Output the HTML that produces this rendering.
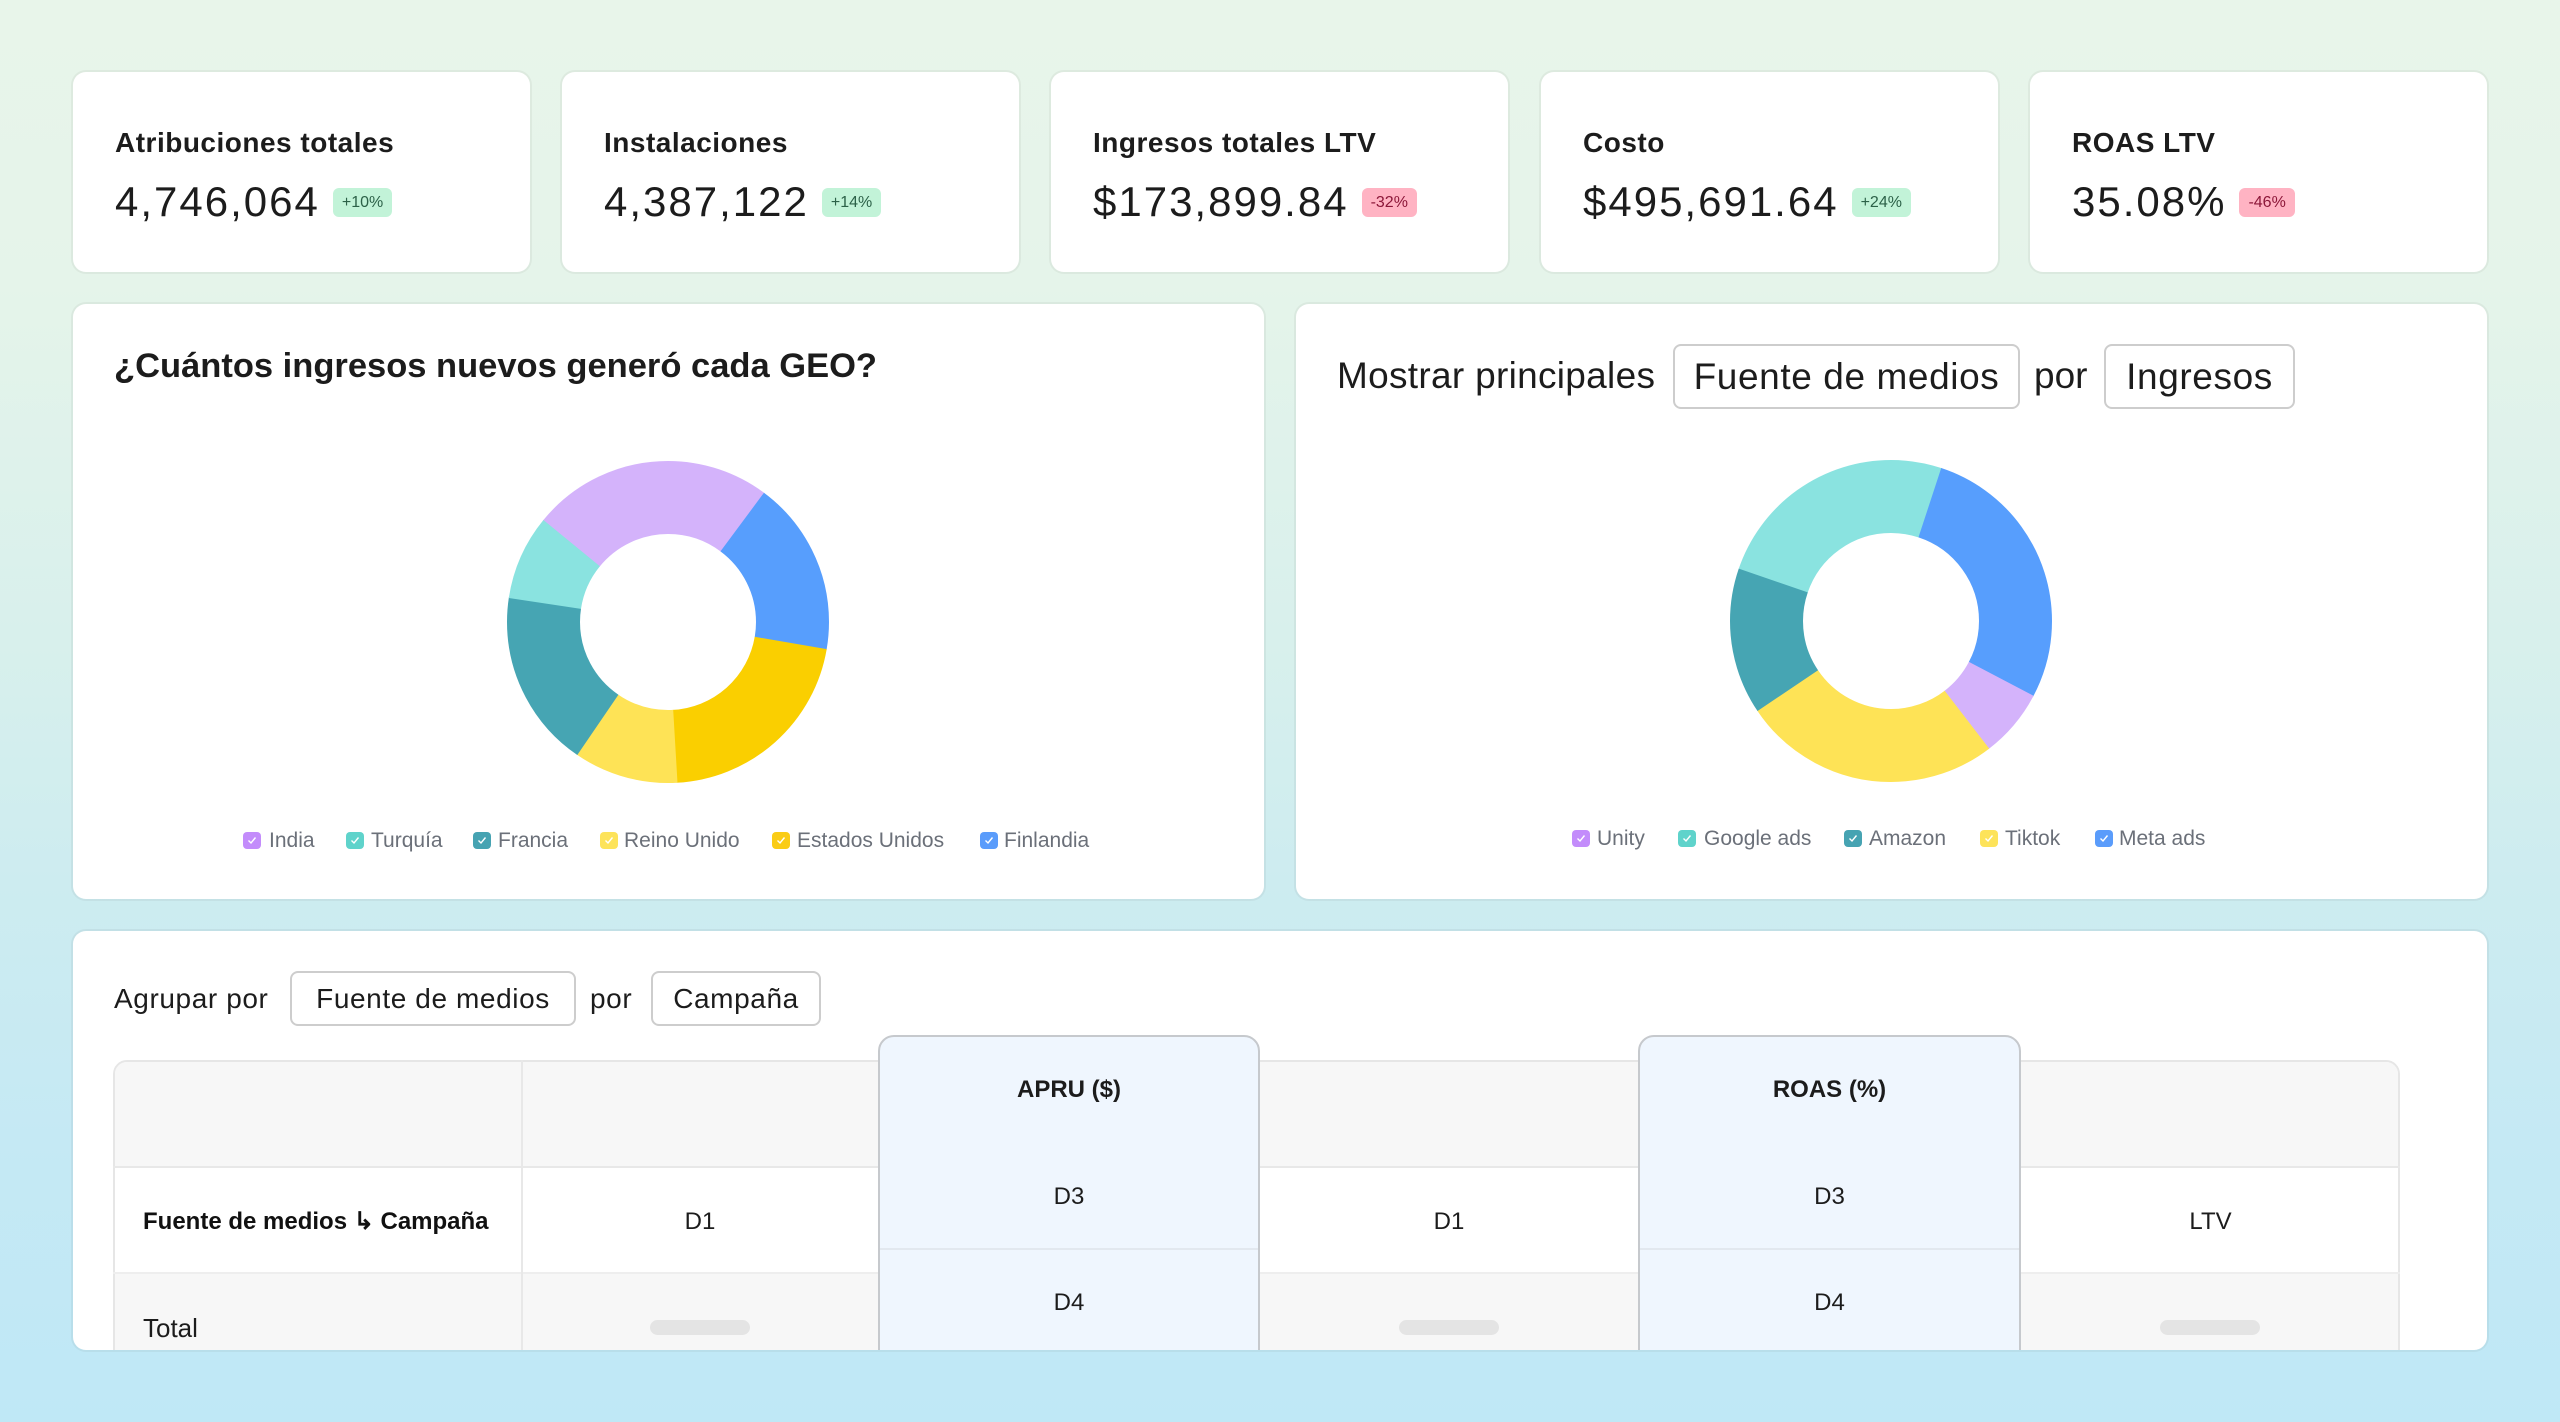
<!DOCTYPE html>
<html>
<head>
<meta charset="utf-8">
<style>
  html,body{margin:0;padding:0;}
  body{width:2560px;height:1422px;overflow:hidden;position:relative;
    font-family:"Liberation Sans",Arial,sans-serif;color:#1b1b1b;
    background:linear-gradient(180deg,#e8f5ea 0%,#e5f4ea 20%,#d8f0ec 45%,#cdecf0 62%,#c5e9f4 80%,#bfe8f6 100%);}
  .abs{position:absolute;}
  .card{position:absolute;top:72px;width:457px;height:200px;background:#fff;border-radius:13px;
    box-shadow:0 0 0 2px rgba(0,0,0,0.045);}
  .card .lbl{position:absolute;left:42px;top:57px;font-size:28px;line-height:28px;font-weight:bold;letter-spacing:0.5px;white-space:nowrap;color:#1c1c1c;}
  .card .row{position:absolute;left:42px;top:109px;height:42px;display:flex;align-items:center;white-space:nowrap;}
  .card .val{font-size:42px;line-height:42px;letter-spacing:2px;color:#1c1c1c;}
  .badge{margin-left:13px;height:29px;line-height:29px;padding:0 9px;border-radius:6px;font-size:16px;}
  .g{background:#c2f3d8;color:#2c6148;}
  .r{background:#ffb3c3;color:#8c1739;}
  .panel{position:absolute;background:#fff;border-radius:13px;box-shadow:0 0 0 2px rgba(0,0,0,0.045);overflow:hidden;}
  .btn{position:absolute;box-sizing:border-box;border:2px solid #cdcdcd;border-radius:8px;background:#fff;
    display:flex;align-items:center;justify-content:center;white-space:nowrap;color:#1c1c1c;}
  .leg{position:absolute;font-size:21px;line-height:21px;color:#6b7079;white-space:nowrap;}
  .cb{position:absolute;width:18px;height:17px;border-radius:4px;}
  .cb svg{position:absolute;left:4px;top:4px;}
  .cell{position:absolute;text-align:center;white-space:nowrap;font-size:24px;line-height:24px;color:#1c1c1c;}
  .hl{position:absolute;background:#e8e8e8;}
</style>
</head>
<body>

<!-- KPI cards -->
<div class="card" style="left:73px;">
  <div class="lbl">Atribuciones totales</div>
  <div class="row"><span class="val">4,746,064</span><span class="badge g">+10%</span></div>
</div>
<div class="card" style="left:562px;">
  <div class="lbl">Instalaciones</div>
  <div class="row"><span class="val">4,387,122</span><span class="badge g">+14%</span></div>
</div>
<div class="card" style="left:1051px;">
  <div class="lbl">Ingresos totales LTV</div>
  <div class="row"><span class="val">$173,899.84</span><span class="badge r">-32%</span></div>
</div>
<div class="card" style="left:1541px;">
  <div class="lbl">Costo</div>
  <div class="row"><span class="val">$495,691.64</span><span class="badge g">+24%</span></div>
</div>
<div class="card" style="left:2030px;">
  <div class="lbl">ROAS LTV</div>
  <div class="row"><span class="val">35.08%</span><span class="badge r">-46%</span></div>
</div>

<!-- Left donut panel -->
<div class="panel" style="left:73px;top:304px;width:1191px;height:595px;">
  <div class="abs" style="left:41px;top:45px;font-size:34.5px;line-height:34.5px;font-weight:bold;white-space:nowrap;color:#1c1c1c;">¿Cuántos ingresos nuevos generó cada GEO?</div>

  <div class="cb" style="left:170px;top:528px;background:#c38cfb;"><svg width="10" height="9" viewBox="0 0 10 9"><polyline points="1.5,4.5 4,7 8.5,1.5" fill="none" stroke="#fff" stroke-width="1.4"/></svg></div>
  <div class="leg" style="left:196px;top:526px;">India</div>
  <div class="cb" style="left:273px;top:528px;background:#5fd3cb;"><svg width="10" height="9" viewBox="0 0 10 9"><polyline points="1.5,4.5 4,7 8.5,1.5" fill="none" stroke="#fff" stroke-width="1.4"/></svg></div>
  <div class="leg" style="left:298px;top:526px;">Turquía</div>
  <div class="cb" style="left:400px;top:528px;background:#46a3b2;"><svg width="10" height="9" viewBox="0 0 10 9"><polyline points="1.5,4.5 4,7 8.5,1.5" fill="none" stroke="#fff" stroke-width="1.4"/></svg></div>
  <div class="leg" style="left:425px;top:526px;">Francia</div>
  <div class="cb" style="left:527px;top:528px;background:#fde35a;"><svg width="10" height="9" viewBox="0 0 10 9"><polyline points="1.5,4.5 4,7 8.5,1.5" fill="none" stroke="#fff" stroke-width="1.4"/></svg></div>
  <div class="leg" style="left:551px;top:526px;">Reino Unido</div>
  <div class="cb" style="left:699px;top:528px;background:#facc15;"><svg width="10" height="9" viewBox="0 0 10 9"><polyline points="1.5,4.5 4,7 8.5,1.5" fill="none" stroke="#fff" stroke-width="1.4"/></svg></div>
  <div class="leg" style="left:724px;top:526px;">Estados Unidos</div>
  <div class="cb" style="left:907px;top:528px;background:#5a9cfb;"><svg width="10" height="9" viewBox="0 0 10 9"><polyline points="1.5,4.5 4,7 8.5,1.5" fill="none" stroke="#fff" stroke-width="1.4"/></svg></div>
  <div class="leg" style="left:931px;top:526px;">Finlandia</div>
</div>

<!-- Right donut panel -->
<div class="panel" style="left:1296px;top:304px;width:1191px;height:595px;">
  <div class="abs" style="left:41px;top:53px;font-size:37px;line-height:37px;white-space:nowrap;letter-spacing:0.3px;color:#1c1c1c;">Mostrar principales</div>
  <div class="btn" style="left:377px;top:40px;width:347px;height:65px;font-size:37px;letter-spacing:0.6px;">Fuente de medios</div>
  <div class="abs" style="left:738px;top:53px;font-size:37px;line-height:37px;white-space:nowrap;color:#1c1c1c;">por</div>
  <div class="btn" style="left:808px;top:40px;width:191px;height:65px;font-size:37px;letter-spacing:0.6px;">Ingresos</div>

  <div class="cb" style="left:276px;top:526px;background:#c38cfb;"><svg width="10" height="9" viewBox="0 0 10 9"><polyline points="1.5,4.5 4,7 8.5,1.5" fill="none" stroke="#fff" stroke-width="1.4"/></svg></div>
  <div class="leg" style="left:301px;top:524px;">Unity</div>
  <div class="cb" style="left:382px;top:526px;background:#5fd3cb;"><svg width="10" height="9" viewBox="0 0 10 9"><polyline points="1.5,4.5 4,7 8.5,1.5" fill="none" stroke="#fff" stroke-width="1.4"/></svg></div>
  <div class="leg" style="left:408px;top:524px;">Google ads</div>
  <div class="cb" style="left:548px;top:526px;background:#46a3b2;"><svg width="10" height="9" viewBox="0 0 10 9"><polyline points="1.5,4.5 4,7 8.5,1.5" fill="none" stroke="#fff" stroke-width="1.4"/></svg></div>
  <div class="leg" style="left:573px;top:524px;">Amazon</div>
  <div class="cb" style="left:684px;top:526px;background:#fde35a;"><svg width="10" height="9" viewBox="0 0 10 9"><polyline points="1.5,4.5 4,7 8.5,1.5" fill="none" stroke="#fff" stroke-width="1.4"/></svg></div>
  <div class="leg" style="left:709px;top:524px;">Tiktok</div>
  <div class="cb" style="left:799px;top:526px;background:#5a9cfb;"><svg width="10" height="9" viewBox="0 0 10 9"><polyline points="1.5,4.5 4,7 8.5,1.5" fill="none" stroke="#fff" stroke-width="1.4"/></svg></div>
  <div class="leg" style="left:823px;top:524px;">Meta ads</div>
</div>

<!-- Donuts -->
<svg class="abs" style="left:0;top:0;" width="2560" height="1422" viewBox="0 0 2560 1422">
  <g fill="none" stroke-width="73">
    <!-- Left donut -->
    <g transform="rotate(-90 668 622)">
      <circle cx="668" cy="622" r="124.5" pathLength="360" stroke="#d4b3fb" stroke-dasharray="51.3 400" stroke-dashoffset="-309"/>
      <circle cx="668" cy="622" r="124.5" pathLength="360" stroke="#d4b3fb" stroke-dasharray="36.9 400" stroke-dashoffset="0"/>
      <circle cx="668" cy="622" r="124.5" pathLength="360" stroke="#579efd" stroke-dasharray="63.4 400" stroke-dashoffset="-36.6"/>
      <circle cx="668" cy="622" r="124.5" pathLength="360" stroke="#facf00" stroke-dasharray="77.2 400" stroke-dashoffset="-99.7"/>
      <circle cx="668" cy="622" r="124.5" pathLength="360" stroke="#fee356" stroke-dasharray="38 400" stroke-dashoffset="-176.6"/>
      <circle cx="668" cy="622" r="124.5" pathLength="360" stroke="#46a5b3" stroke-dasharray="64.6 400" stroke-dashoffset="-214.3"/>
      <circle cx="668" cy="622" r="124.5" pathLength="360" stroke="#8ae3e0" stroke-dasharray="30.7 400" stroke-dashoffset="-278.6"/>
    </g>
    <!-- Right donut -->
    <g transform="rotate(-90 1891 621)">
      <circle cx="1891" cy="621" r="124.5" pathLength="360" stroke="#8ae3e0" stroke-dasharray="71.3 400" stroke-dashoffset="-288.7"/>
      <circle cx="1891" cy="621" r="124.5" pathLength="360" stroke="#8ae3e0" stroke-dasharray="18.5 400" stroke-dashoffset="0"/>
      <circle cx="1891" cy="621" r="124.5" pathLength="360" stroke="#579efd" stroke-dasharray="99.8 400" stroke-dashoffset="-18.2"/>
      <circle cx="1891" cy="621" r="124.5" pathLength="360" stroke="#d4b3fb" stroke-dasharray="25 400" stroke-dashoffset="-117.7"/>
      <circle cx="1891" cy="621" r="124.5" pathLength="360" stroke="#fee356" stroke-dasharray="93.9 400" stroke-dashoffset="-142.4"/>
      <circle cx="1891" cy="621" r="124.5" pathLength="360" stroke="#46a5b3" stroke-dasharray="53 400" stroke-dashoffset="-236"/>
    </g>
  </g>
</svg>

<!-- Bottom table panel -->
<div class="panel" style="left:73px;top:931px;width:2414px;height:419px;">
  <div class="abs" style="left:41px;top:54px;font-size:28px;line-height:28px;letter-spacing:0.6px;white-space:nowrap;color:#1c1c1c;">Agrupar por</div>
  <div class="btn" style="left:217px;top:40px;width:286px;height:55px;font-size:28px;letter-spacing:0.6px;">Fuente de medios</div>
  <div class="abs" style="left:517px;top:54px;font-size:28px;line-height:28px;letter-spacing:0.6px;white-space:nowrap;color:#1c1c1c;">por</div>
  <div class="btn" style="left:578px;top:40px;width:170px;height:55px;font-size:28px;letter-spacing:0.6px;">Campaña</div>

  <!-- table frame -->
  <div class="abs" style="left:40px;top:129px;width:2287px;height:400px;box-sizing:border-box;border:2px solid #e6e6e6;border-radius:14px 14px 0 0;overflow:hidden;background:#fff;">
    <div class="abs" style="left:0;top:0;width:100%;height:105px;background:#f7f7f7;"></div>
    <div class="abs" style="left:0;top:211px;width:100%;height:200px;background:#f7f7f7;"></div>
  </div>
  <!-- row lines -->
  <div class="hl" style="left:40px;top:235px;width:2287px;height:2px;"></div>
  <div class="hl" style="left:40px;top:341px;width:2287px;height:2px;background:#eeeeee;"></div>
  <!-- column lines -->
  <div class="hl" style="left:448px;top:129px;width:2px;height:300px;"></div>
  <div class="hl" style="left:1185px;top:129px;width:2px;height:300px;"></div>
  <div class="hl" style="left:1946px;top:129px;width:2px;height:300px;"></div>

  <!-- highlighted columns -->
  <div class="abs" style="left:805px;top:104px;width:382px;height:400px;box-sizing:border-box;background:#eff6fe;border:2px solid #c6c9cd;border-radius:16px 16px 0 0;"></div>
  <div class="abs" style="left:807px;top:317px;width:378px;height:2px;background:#e2e8ef;"></div>
  <div class="abs" style="left:1565px;top:104px;width:383px;height:400px;box-sizing:border-box;background:#eff6fe;border:2px solid #c6c9cd;border-radius:16px 16px 0 0;"></div>
  <div class="abs" style="left:1567px;top:317px;width:379px;height:2px;background:#e2e8ef;"></div>

  <!-- header texts -->
  <div class="cell" style="left:805px;width:382px;top:147px;font-weight:bold;">APRU ($)</div>
  <div class="cell" style="left:1565px;width:383px;top:147px;font-weight:bold;">ROAS (%)</div>

  <!-- row 2 -->
  <div class="abs" style="left:70px;top:279px;font-size:24px;line-height:24px;font-weight:bold;white-space:nowrap;color:#111;">Fuente de medios ↳ Campaña</div>
  <div class="cell" style="left:449px;width:356px;top:279px;">D1</div>
  <div class="cell" style="left:805px;width:382px;top:254px;">D3</div>
  <div class="cell" style="left:1187px;width:378px;top:279px;">D1</div>
  <div class="cell" style="left:1565px;width:383px;top:254px;">D3</div>
  <div class="cell" style="left:1948px;width:379px;top:279px;">LTV</div>

  <!-- row 3 -->
  <div class="abs" style="left:70px;top:384px;font-size:26px;line-height:26px;white-space:nowrap;color:#1c1c1c;">Total</div>
  <div class="cell" style="left:805px;width:382px;top:360px;">D4</div>
  <div class="cell" style="left:1565px;width:383px;top:360px;">D4</div>
  <div class="abs" style="left:577px;top:389px;width:100px;height:15px;border-radius:8px;background:#e4e4e4;"></div>
  <div class="abs" style="left:1326px;top:389px;width:100px;height:15px;border-radius:8px;background:#e4e4e4;"></div>
  <div class="abs" style="left:2087px;top:389px;width:100px;height:15px;border-radius:8px;background:#e4e4e4;"></div>
</div>

</body>
</html>
